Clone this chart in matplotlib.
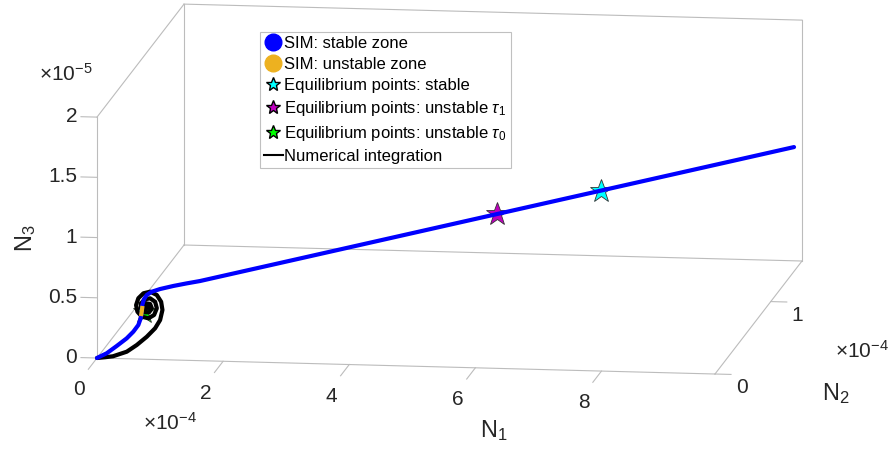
import matplotlib
matplotlib.use('Agg')
import matplotlib.pyplot as plt
from matplotlib.lines import Line2D
from mpl_toolkits.mplot3d import proj3d

plt.rcParams['font.family'] = ['Liberation Sans', 'DejaVu Sans']
plt.rcParams['mathtext.fontset'] = 'custom'
plt.rcParams['mathtext.rm'] = 'Liberation Sans'
plt.rcParams['mathtext.it'] = 'Liberation Sans:italic'

# units: N1 and N2 in 1e-4, N3 in 1e-5
# SIM, stable zone
sim_n1 = [0.0, 0.142, 0.288, 0.434, 0.531, 0.604, 0.639, 0.654, 0.662, 0.687, 0.727,
          0.800, 0.921, 1.116, 1.312, 1.506, 5.653, 7.104, 9.8]
sim_n2 = [0.0, 0.0135, 0.0275, 0.0415, 0.0507, 0.0577, 0.061, 0.0624, 0.0633, 0.0656, 0.0694,
          0.0764, 0.088, 0.1066, 0.1253, 0.1438, 0.7804, 1.0032, 1.417]
sim_n3 = [0.0, 0.033, 0.087, 0.144, 0.195, 0.247, 0.301, 0.356, 0.411, 0.457, 0.491,
          0.515, 0.532, 0.549, 0.562, 0.573, 0.8025, 0.8828, 1.032]

# SIM, unstable zone (short piece)
uns_n1 = [0.648, 0.654, 0.661]
uns_n2 = [0.0619, 0.0624, 0.0631]
uns_n3 = [0.337, 0.356, 0.386]

# equilibrium points
eq_stable = (7.104, 1.0032, 0.8828)
eq_tau1 = (5.653, 0.7804, 0.8025)
eq_tau0 = (0.687, 0.0656, 0.352)

# numerical integration
num_n1 = [0.0, 0.117, 0.234, 0.435, 0.581, 0.727, 0.849, 0.922, 0.956, 0.937, 0.874, 0.776,
          0.678, 0.604, 0.571, 0.590, 0.654, 0.751, 0.834, 0.874, 0.849, 0.776, 0.703,
          0.644, 0.640, 0.688, 0.761, 0.801, 0.776, 0.717, 0.688, 0.713, 0.746]
num_n2 = [0.0, 0.0113, 0.0227, 0.042, 0.0562, 0.0704, 0.0821, 0.0892, 0.0925, 0.0906, 0.0845, 0.075,
          0.0656, 0.0585, 0.0552, 0.0571, 0.0633, 0.0726, 0.0807, 0.0845, 0.0821, 0.075, 0.068,
          0.0623, 0.0619, 0.0665, 0.0736, 0.0774, 0.075, 0.0694, 0.0665, 0.0689, 0.0722]
num_n3 = [0.0, 0.001, 0.004, 0.033, 0.082, 0.144, 0.209, 0.274, 0.356, 0.425, 0.484, 0.516,
          0.507, 0.469, 0.414, 0.358, 0.314, 0.296, 0.320, 0.374, 0.429, 0.461, 0.456,
          0.425, 0.384, 0.349, 0.345, 0.377, 0.414, 0.422, 0.401, 0.377, 0.388]

X_MAX, Y_MAX, Z_MAX = 9.8, 1.56, 2.0
x_ticks = [0, 2, 4, 6, 8]
y_ticks = [0, 1]
z_ticks = [0, 0.5, 1, 1.5, 2]
z_tick_labels = ['0', '0.5', '1', '1.5', '2']

W, H = 892, 454
fig = plt.figure(figsize=(W / 100, H / 100), dpi=100)
ax = fig.add_axes([0, 0, 1, 1], projection='3d', proj_type='ortho', computed_zorder=False)
ax.view_init(elev=10.57, azim=-81.96)
ax.set_box_aspect((624, 622, 245))
ax.set_xlim(0, X_MAX)
ax.set_ylim(0, Y_MAX)
ax.set_zlim(0, Z_MAX)
ax.set_axis_off()

gray = '#bcbcbc'
# back box edges and axis lines, matlab style
edges = [((0, X_MAX), (0, 0), (0, 0)), ((X_MAX, X_MAX), (0, Y_MAX), (0, 0)),
         ((0, 0), (0, 0), (0, Z_MAX)), ((0, 0), (0, Y_MAX), (0, 0)),
         ((0, X_MAX), (Y_MAX, Y_MAX), (0, 0)), ((0, 0), (Y_MAX, Y_MAX), (0, Z_MAX)),
         ((0, 0), (0, Y_MAX), (Z_MAX, Z_MAX)), ((0, X_MAX), (Y_MAX, Y_MAX), (Z_MAX, Z_MAX)),
         ((X_MAX, X_MAX), (Y_MAX, Y_MAX), (0, Z_MAX))]
for ex, ey, ez in edges:
    ax.plot(ex, ey, ez, color=gray, lw=0.8, zorder=1)

for t in x_ticks:
    ax.plot([t, t], [0, -0.155], [0, 0], color=gray, lw=0.8, zorder=1)
for t in y_ticks:
    ax.plot([X_MAX, X_MAX + 0.254], [t, t], [0, 0], color=gray, lw=0.8, zorder=1)
for t in z_ticks:
    ax.plot([0, -0.254], [0, 0], [t, t], color=gray, lw=0.8, zorder=1)

# data
star_kw = dict(marker='*', markersize=17, markeredgecolor='#333333', markeredgewidth=0.6, linestyle='none', zorder=2)
ax.plot(*[[v] for v in eq_stable], color='cyan', **star_kw)
ax.plot(*[[v] for v in eq_tau1], color='#bf00bf', **star_kw)
ax.plot(*[[v] for v in eq_tau0], color='#00ff00', **star_kw)
ax.plot(num_n1, num_n2, num_n3, color='black', lw=3, zorder=3, solid_capstyle='round')
ax.plot(sim_n1, sim_n2, sim_n3, color='blue', lw=3, zorder=4, solid_capstyle='round')
ax.plot(uns_n1, uns_n2, uns_n3, color='#edb120', lw=3, zorder=5)

# fit the 3d box onto the reference pixel positions
fig.canvas.draw()
def frac(p):
    px, py, _ = proj3d.proj_transform(*p, ax.get_proj())
    return ax.transAxes.inverted().transform(ax.transData.transform((px, py)))
fa = frac((0, 0, 0))
fc = frac((X_MAX, Y_MAX, Z_MAX))
ta = (97, H - 358)
tc = (802, H - 19)
L = (tc[0] - ta[0]) / (fc[0] - fa[0])
ox = ta[0] - L * fa[0]
oy = ta[1] - L * fa[1]
ax.set_position([ox / W, oy / H, L / W, L / H])
fig.canvas.draw()

# tick labels: project 3d anchor points, then place as figure text
def to_fig(p):
    px, py, _ = proj3d.proj_transform(*p, ax.get_proj())
    return fig.transFigure.inverted().transform(ax.transData.transform((px, py)))

tick_font = 15
for t in x_ticks:
    fx, fy = to_fig((t, -0.32, -0.072))
    fig.text(fx, fy, str(t), fontsize=tick_font, ha='center', va='center', color='#262626')
for t in y_ticks:
    fx, fy = to_fig((X_MAX + 0.423, t, -0.11))
    fig.text(fx, fy, str(t), fontsize=tick_font, ha='center', va='center', color='#262626')
for t, lab in zip(z_ticks, z_tick_labels):
    fx, fy = to_fig((-0.317, 0, t))
    fig.text(fx, fy, lab, fontsize=tick_font, ha='right', va='center', color='#262626')

def ftext(px, py, s, **kw):
    fig.text(px / W, 1 - py / H, s, color='#262626', **kw)

ftext(66, 74, r'$\times10^{-5}$', fontsize=15, ha='center', va='center')
ftext(170, 423, r'$\times10^{-4}$', fontsize=15, ha='center', va='center')
ftext(862, 351, r'$\times10^{-4}$', fontsize=15, ha='center', va='center')
ftext(480, 437, r'N$_1$', fontsize=17, ha='left', va='baseline')
ftext(822, 400, r'N$_2$', fontsize=17, ha='left', va='baseline')
ftext(26, 238, r'N$_3$', fontsize=17, ha='center', va='center', rotation=90)

handles = [
    Line2D([], [], marker='o', color='blue', markersize=12, linestyle='none'),
    Line2D([], [], marker='o', color='#edb120', markersize=12, linestyle='none'),
    Line2D([], [], marker='*', color='cyan', markersize=10, markeredgecolor='black', markeredgewidth=1, linestyle='none'),
    Line2D([], [], marker='*', color='#bf00bf', markersize=10, markeredgecolor='black', markeredgewidth=1, linestyle='none'),
    Line2D([], [], marker='*', color='#00ff00', markersize=10, markeredgecolor='black', markeredgewidth=1, linestyle='none'),
    Line2D([], [], color='black', lw=1.5),
]
labels = ['SIM: stable zone', 'SIM: unstable zone', 'Equilibrium points: stable',
          r'Equilibrium points: unstable $\tau_1$', r'Equilibrium points: unstable $\tau_0$',
          'Numerical integration']
leg = fig.legend(handles, labels, loc='upper left', bbox_to_anchor=(260 / W, 1 - 32 / H),
                 fontsize=12, frameon=True, fancybox=False, edgecolor='#c0c0c0', framealpha=1,
                 handlelength=1.1, handletextpad=0.1, borderpad=0.25, labelspacing=0.36,
                 borderaxespad=0)
leg.get_frame().set_linewidth(0.8)

fig.savefig('out.png', dpi=100)
